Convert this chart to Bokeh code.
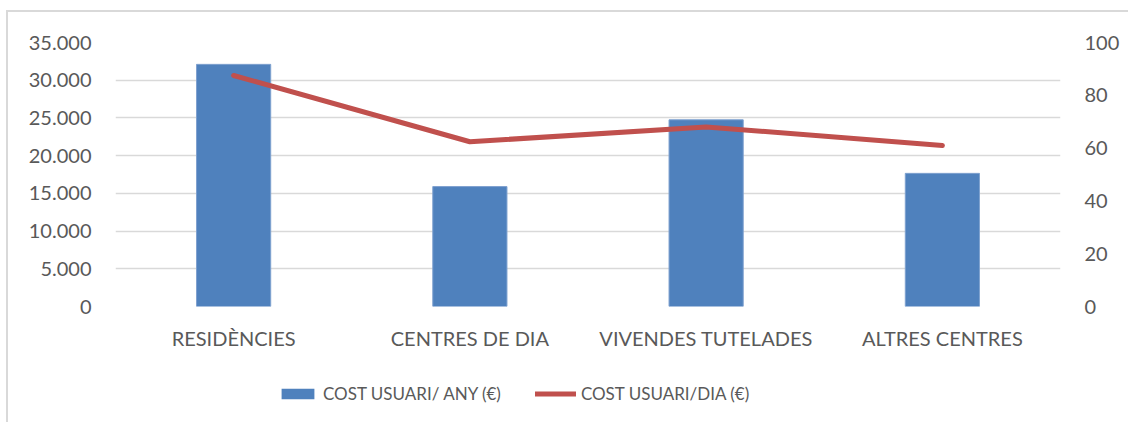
from bokeh.plotting import figure
from bokeh.layouts import column
from bokeh.models import (FactorRange, Range1d, LinearAxis, FixedTicker, CustomJSTickFormatter,
                          Legend, LegendItem, ColumnDataSource)
from bokeh.embed import file_html
from bokeh.resources import INLINE

categories = ["RESIDÈNCIES", "CENTRES DE DIA", "VIVENDES TUTELADES", "ALTRES CENTRES"]
cost_any = [32100, 15900, 24750, 17650]
cost_dia = [87.5, 62.4, 68.0, 61.0]
left_ticks = [0, 5000, 10000, 15000, 20000, 25000, 30000, 35000]
right_ticks = [0, 20, 40, 60, 80, 100]
series_names = ["COST USUARI/ ANY (€)", "COST USUARI/DIA (€)"]

FONT = "Lato"
TXT = "#595959"
GRID = "#d9d9d9"
BAR_FILL = "#4f81bd"
BAR_LINE = "#7ea1cf"
LINE_COL = "#c0504d"

src = ColumnDataSource(dict(cat=categories, any=cost_any, dia=cost_dia))

p = figure(x_range=FactorRange(*categories, range_padding=0), y_range=Range1d(0, 35000),
           frame_width=945, frame_height=264, output_backend="svg", toolbar_location=None,
           min_border_left=107, min_border_right=68, min_border_top=30, min_border_bottom=50)
p.outline_line_color = None
p.background_fill_color = "white"
p.border_fill_color = "white"

p.extra_y_ranges = {"dia": Range1d(0, 100)}

bars = p.vbar(x="cat", top="any", width=0.314, source=src, fill_color=BAR_FILL,
              line_color=BAR_LINE, line_width=1)
line = p.line(x="cat", y="dia", source=src, y_range_name="dia", line_color=LINE_COL,
              line_width=5, line_cap="round", line_join="round")

ya = p.yaxis[0]
ya.ticker = FixedTicker(ticks=left_ticks)
ya.formatter = CustomJSTickFormatter(code="return tick.toString().replace(/\\B(?=(\\d{3})+(?!\\d))/g, '.');")
ya.axis_line_color = None
ya.major_tick_line_color = None
ya.minor_tick_line_color = None
ya.major_label_text_font = FONT
ya.major_label_text_font_size = "20px"
ya.major_label_text_color = TXT
ya.major_label_standoff = 18

ra = LinearAxis(y_range_name="dia", ticker=FixedTicker(ticks=right_ticks))
ra.axis_line_color = None
ra.major_tick_line_color = None
ra.minor_tick_line_color = None
ra.major_label_text_font = FONT
ra.major_label_text_font_size = "20px"
ra.major_label_text_color = TXT
ra.major_label_standoff = 18
p.add_layout(ra, "right")

xa = p.xaxis[0]
xa.axis_line_color = None
xa.major_tick_line_color = None
xa.minor_tick_line_color = None
xa.major_label_text_font = FONT
xa.major_label_text_font_size = "20px"
xa.major_label_text_color = TXT
xa.major_label_standoff = 13

p.xgrid.grid_line_color = None
p.ygrid.ticker = FixedTicker(ticks=left_ticks)
p.ygrid.grid_line_color = GRID
p.ygrid.grid_line_width = 1.5

# legend strip: a separate figure (so the legend is not clipped by the plot frame);
# it shows the same series, but its value range keeps the marks out of view.
lf = figure(width=1120, height=66, x_range=FactorRange(*categories, range_padding=0),
            y_range=Range1d(1e6, 2e6), output_backend="svg", toolbar_location=None,
            x_axis_location=None, y_axis_location=None,
            min_border_left=0, min_border_right=0, min_border_top=0, min_border_bottom=0)
lf.outline_line_color = None
lf.grid.visible = False
lf.background_fill_color = "white"
lf.border_fill_color = "white"
lbar = lf.vbar(x="cat", top="any", width=0.314, source=src, fill_color=BAR_FILL,
               line_color=None)
lline = lf.line(x="cat", y="dia", source=src, line_color=LINE_COL, line_width=5, line_cap="round")

legend = Legend(items=[LegendItem(label=series_names[0], renderers=[lbar]),
                       LegendItem(label=series_names[1], renderers=[lline])],
                orientation="horizontal", location=(162, 18))
legend.border_line_color = None
legend.background_fill_alpha = 0
legend.label_text_font = FONT
legend.label_text_font_size = "17px"
legend.label_text_color = TXT
legend.glyph_width = 41
legend.glyph_height = 13
legend.label_standoff = 5
legend.spacing = 34
legend.padding = 0
legend.margin = 0
lf.add_layout(legend, "center")

layout = column(p, lf, spacing=0)
layout.margin = (10, 0, 0, 6)
layout.styles = {"border-left": "2px solid #d9d9d9", "border-top": "2px solid #d9d9d9"}

open("out.html", "w").write(file_html(layout, INLINE))
